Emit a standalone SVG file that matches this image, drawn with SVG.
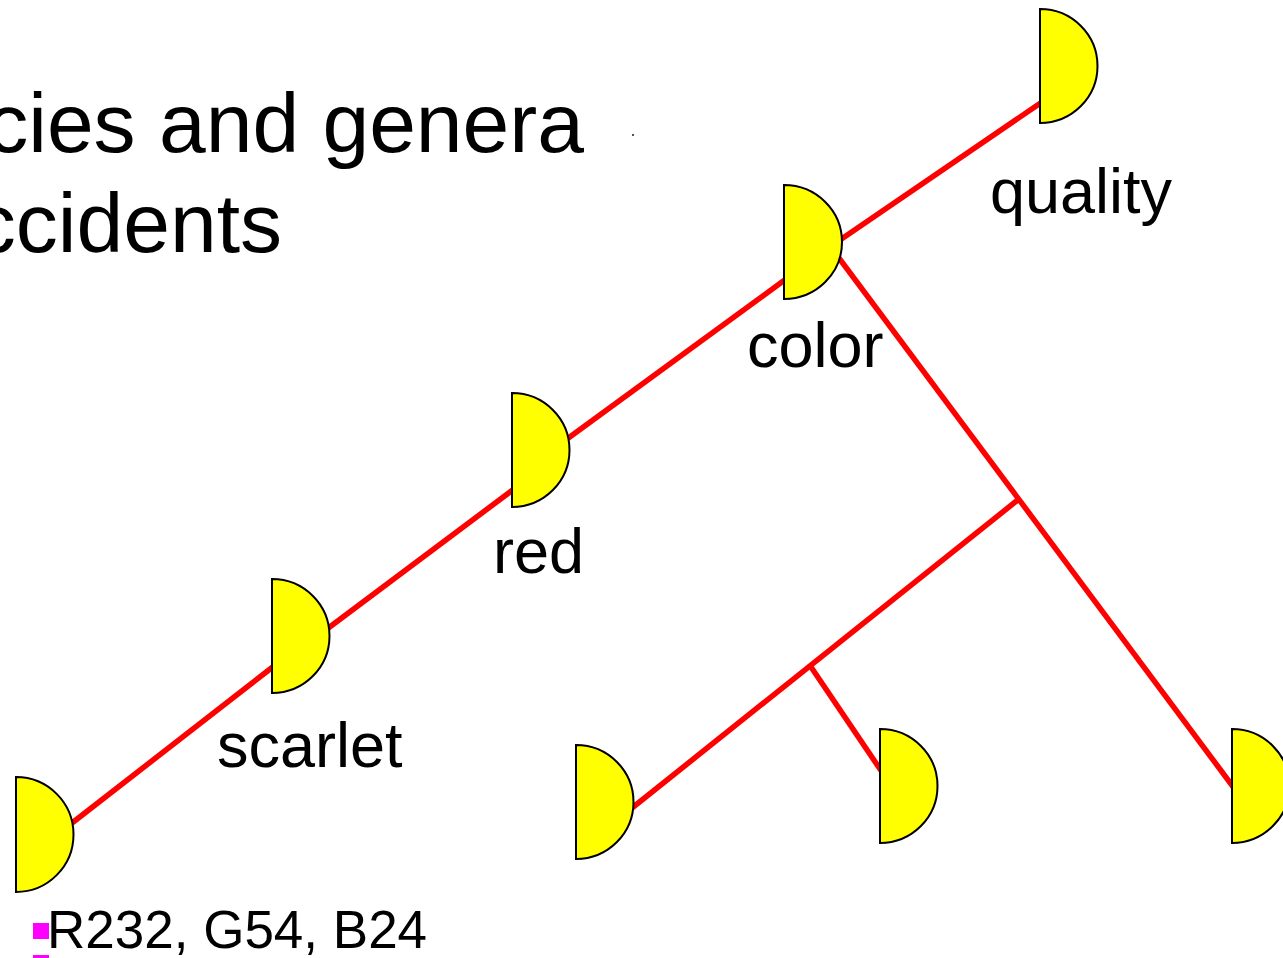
<svg xmlns="http://www.w3.org/2000/svg" width="1283" height="958" viewBox="0 0 1283 958">
<style>
.lbl{font-family:"Liberation Sans",Arial,sans-serif;font-size:63px;fill:#000}
.title{font-family:"Liberation Sans",Arial,sans-serif;font-size:84px;fill:#000}
.edge{stroke:#ff0000;stroke-width:5.5;fill:none;stroke-linecap:butt}
.half{fill:#ffff00;stroke:#000;stroke-width:2}
</style>
<rect width="1283" height="958" fill="#fff"/>
<g id="title">
<text class="title" x="584" y="152" text-anchor="end">cies and genera</text>
<text class="title" x="282" y="252" text-anchor="end">ccidents</text>
<rect x="632" y="134" width="2" height="2" fill="#555"/>
</g>
<g id="connectors">
<line class="edge" x1="72" y1="823" x2="274" y2="666"/>
<line class="edge" x1="327" y1="629" x2="514" y2="489"/>
<line class="edge" x1="567" y1="439" x2="786" y2="279"/>
<line class="edge" x1="840" y1="240" x2="1042" y2="102"/>
<line class="edge" x1="836" y1="254" x2="1234" y2="788"/>
<line class="edge" x1="1019" y1="499" x2="632" y2="808"/>
<line class="edge" x1="809" y1="664" x2="882" y2="772"/>
</g>
<g id="quality">
<path class="half" d="M1040,9 A57.5,57 0 0 1 1040,123 Z"/>
<text class="lbl" x="990" y="213">quality</text>
</g>
<g id="color">
<path class="half" d="M784,185 A58,57 0 0 1 784,299 Z"/>
<text class="lbl" x="747" y="367">color</text>
</g>
<g id="red">
<path class="half" d="M512,393 A57.5,57 0 0 1 512,507 Z"/>
<text class="lbl" x="493" y="573">red</text>
</g>
<g id="scarlet">
<path class="half" d="M272,579 A57.5,57 0 0 1 272,693 Z"/>
<text class="lbl" x="217" y="767">scarlet</text>
</g>
<g id="leaf">
<path class="half" d="M16,777 A57.5,57.5 0 0 1 16,892 Z"/>
</g>
<g id="node-bottom-mid">
<path class="half" d="M576,745 A57.5,57 0 0 1 576,859 Z"/>
</g>
<g id="node-right-mid">
<path class="half" d="M880,729 A57.5,57 0 0 1 880,843 Z"/>
</g>
<g id="node-far-right">
<path class="half" d="M1232,729 A57.5,57 0 0 1 1232,843 Z"/>
</g>
<g id="caption">
<rect x="33" y="923" width="16" height="16" fill="#ff00ff"/>
<rect x="33" y="955" width="16" height="3" fill="#ff00ff"/>
<text x="47" y="948" font-family="Liberation Sans, Arial, sans-serif" font-size="53" fill="#000">R232, G54, B24</text>
</g>
</svg>
